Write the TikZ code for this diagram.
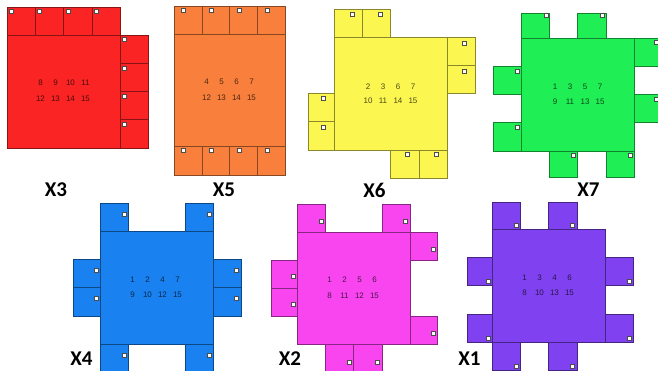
\documentclass[tikz,border=0pt]{standalone}
\usepackage{fontspec}
\setmainfont{Liberation Sans}
\newfontfamily\lblfont{Carlito}
\definecolor{cRed}{HTML}{FA2424}
\definecolor{cOrange}{HTML}{F8803C}
\definecolor{cYellow}{HTML}{FBF650}
\definecolor{cGreen}{HTML}{20EE55}
\definecolor{cBlue}{HTML}{1A82F0}
\definecolor{cMag}{HTML}{F845F0}
\definecolor{cPurple}{HTML}{8042F0}
\tikzset{
  part/.style={fill=#1, draw=#1!55!black, line width=0.5pt},
  mk/.style={fill=white, draw=black!70, line width=0.4pt},
  lbl/.style={font=\lblfont\bfseries\fontsize{21}{21}\selectfont, inner sep=0pt},
  nums/.style={font=\fontsize{8}{9}\selectfont, inner sep=0pt, text=#1!30!black},
}
% tab: color, x, y, w, h, marker dx, marker dy
\newcommand\tb[7]{%
  \draw[part=#1] (#2,#3) rectangle ++(#4,#5);
  \draw[mk] (#2+#6-2,#3+#7-2) rectangle ++(4,4);}
\newcommand\cl[1]{\makebox[15pt]{#1}}
\begin{document}
\begin{tikzpicture}[x=1pt,y=-1pt]
\useasboundingbox (0,0) rectangle (658,371);
\clip (0,0) rectangle (658,371);
\fill[white] (0,0) rectangle (658,371);
% ---------------- X3 (red)
\foreach \i in {0,1,2,3}{\tb{cRed}{7+28.25*\i}{7}{28.25}{28}{4.3}{4.5}}
\draw[part=cRed] (7,35) rectangle (120,148);
\foreach \i in {0,1,2,3}{\tb{cRed}{120}{35+28.25*\i}{28}{28.25}{4.3}{4.5}}
\node[nums=cRed] (x3a) at (63,83) {\cl{8}\cl{9}\cl{10}\cl{11}};
\node[nums=cRed] (x3b) at (63,99) {\cl{12}\cl{13}\cl{14}\cl{15}};
\node[lbl] (lx3) at (56,189.5) {X3};
% ---------------- X5 (orange)
\draw[part=cOrange] (174,34) rectangle (285,146);
\foreach \i in {0,1,2,3}{
  \tb{cOrange}{174+27.75*\i}{6}{27.75}{28}{9.5}{4}
  \tb{cOrange}{174+27.75*\i}{146}{27.75}{29}{9.5}{4.3}}
\node[nums=cOrange] (x5a) at (229,82) {\cl{4}\cl{5}\cl{6}\cl{7}};
\node[nums=cOrange] (x5b) at (229,98) {\cl{12}\cl{13}\cl{14}\cl{15}};
\node[lbl] (lx5) at (224,190) {X5};
% ---------------- X6 (yellow)
\draw[part=cYellow] (334,37) rectangle (447,150);
\foreach \i in {0,1}{
  \tb{cYellow}{334+28.25*\i}{9}{28.25}{28}{18}{5}
  \tb{cYellow}{447}{37+28.25*\i}{28}{28.25}{17}{6}
  \tb{cYellow}{308}{93.5+28.25*\i}{26}{28.25}{15}{5}
  \tb{cYellow}{390.5+28.25*\i}{150}{28.25}{28}{17}{4}}
\node[nums=cYellow] (x6a) at (390.5,87) {\cl{2}\cl{3}\cl{6}\cl{7}};
\node[nums=cYellow] (x6b) at (390.5,101) {\cl{10}\cl{11}\cl{14}\cl{15}};
\node[lbl] (lx6) at (374.5,190) {X6};
% ---------------- X7 (green)
\draw[part=cGreen] (521,38) rectangle (634,151);
\foreach \i in {0,2}{
  \tb{cGreen}{521+28.25*\i}{13}{28.25}{25}{25}{2}
  \tb{cGreen}{634}{38+28.25*\i}{28}{28.25}{22}{4.5}}
\foreach \i in {1,3}{
  \tb{cGreen}{493}{38+28.25*\i}{28}{28.25}{24}{4.5}
  \tb{cGreen}{521+28.25*\i}{151}{28.25}{26}{24}{4}}
\node[nums=cGreen] (x7a) at (577.5,87) {\cl{1}\cl{3}\cl{5}\cl{7}};
\node[nums=cGreen] (x7b) at (577.5,102) {\cl{9}\cl{11}\cl{13}\cl{15}};
\node[lbl] (lx7) at (588.5,190) {X7};
% ---------------- X4 (blue)
\draw[part=cBlue] (100,231) rectangle (213,344);
\foreach \i in {0,3}{
  \tb{cBlue}{100+28.25*\i}{203.5}{28.25}{27.5}{24}{10.5}
  \tb{cBlue}{100+28.25*\i}{344}{28.25}{28}{24}{11}}
\foreach \i in {1,2}{
  \tb{cBlue}{73}{231+28.25*\i}{27}{28.25}{23}{11}
  \tb{cBlue}{213}{231+28.25*\i}{28}{28.25}{23}{11}}
\node[nums=cBlue] (x4a) at (155,280) {\cl{1}\cl{2}\cl{4}\cl{7}};
\node[nums=cBlue] (x4b) at (155,295) {\cl{9}\cl{10}\cl{12}\cl{15}};
\node[lbl] (lx4) at (81.5,359) {X4};
% ---------------- X2 (magenta)
\draw[part=cMag] (297.5,232.5) rectangle (410,344.5);
\foreach \i in {0,3}{
  \tb{cMag}{297.5+28.1*\i}{204.5}{28.1}{28}{23.5}{17}
  \tb{cMag}{410}{232.5+28*\i}{27}{28}{23}{17}}
\foreach \i in {1,2}{
  \tb{cMag}{271}{232.5+28*\i}{26.5}{28}{22}{16}
  \tb{cMag}{297.5+28.1*\i}{344.5}{28.1}{28}{23.5}{18}}
\node[nums=cMag] (x2a) at (352,280) {\cl{1}\cl{2}\cl{5}\cl{6}};
\node[nums=cMag] (x2b) at (352,296) {\cl{8}\cl{11}\cl{12}\cl{15}};
\node[lbl] (lx2) at (290,359) {X2};
% ---------------- X1 (purple)
\draw[part=cPurple] (492,229) rectangle (605,342);
\foreach \i in {0,2}{
  \tb{cPurple}{492+28.25*\i}{202}{28.25}{27}{24}{23}
  \tb{cPurple}{492+28.25*\i}{342}{28.25}{28}{24}{24}}
\foreach \i in {1,3}{
  \tb{cPurple}{467}{229+28.25*\i}{25}{28.25}{21}{24}
  \tb{cPurple}{605}{229+28.25*\i}{28}{28.25}{24}{24}}
\node[nums=cPurple] (x1a) at (547,278) {\cl{1}\cl{3}\cl{4}\cl{6}};
\node[nums=cPurple] (x1b) at (547,293) {\cl{8}\cl{10}\cl{13}\cl{15}};
\node[lbl] (lx1) at (469.5,359) {X1};
\end{tikzpicture}
\end{document}
